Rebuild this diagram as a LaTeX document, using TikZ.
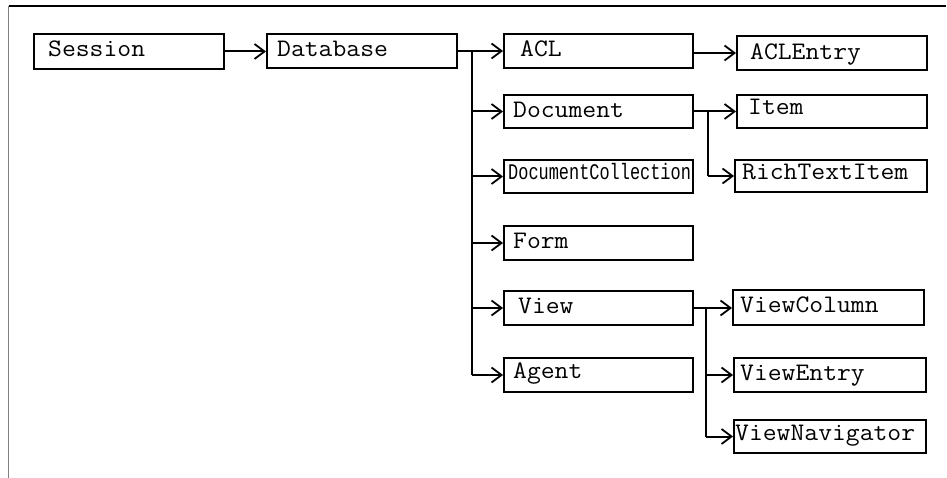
\documentclass[tikz,border=0pt]{standalone}
\usepackage{fontspec}
\newfontfamily\condmono{Liberation Mono}
\usetikzlibrary{arrows.meta,calc}
\tikzset{
  box/.style={draw=black,line width=2pt,rectangle,inner sep=0pt,anchor=north west},
  lbl/.style={anchor=base west,inner sep=0pt,font=\fontsize{24}{24}\selectfont\ttfamily},
  conn/.style={draw=black,line width=2pt},
  arr/.style={conn,-{Straight Barb[length=10pt,width=15pt,line width=1.8pt]}}
}
\newcommand{\mybox}[7]{%
  \node[box,minimum width=#4-#2,minimum height=#5-#3] (#1) at (#2,#3) {};
  \node[lbl] (#1-t) at ($(#1.north west)+(#6,#7)$) {\csname txt#1\endcsname};
}
\newcommand{\wide}[1]{\scalebox{1.12}[1.05]{#1}}
\def\txtsession{\wide{Session}}
\def\txtdatabase{\wide{Database}}
\def\txtacl{\wide{ACL}}
\def\txtaclentry{\wide{ACLEntry}}
\def\txtdocument{\wide{Document}}
\def\txtitem{\wide{Item}}
\def\txtdoccoll{{\condmono\fontsize{23.5}{24}\selectfont\scalebox{0.72}[0.95]{DocumentCollection}}}
\def\txtrichtext{\wide{RichTextItem}}
\def\txtform{\wide{Form}}
\def\txtview{\wide{View}}
\def\txtagent{\wide{Agent}}
\def\txtviewcol{\wide{ViewColumn}}
\def\txtviewentry{\wide{ViewEntry}}
\def\txtviewnav{\wide{ViewNavigator}}
\begin{document}
\begin{tikzpicture}[x=1pt,y=-1pt]
\useasboundingbox (0,0) rectangle (947,478);
% frame
\draw[black,line width=1.2pt] (8.5,6) -- (946,6);
\draw[gray,line width=1.5pt] (8.5,6) -- (8.5,478);
% boxes
\mybox{session}{33}{33}{223}{68}{15}{24}
\mybox{database}{266}{33}{456}{67}{11}{24}
\mybox{acl}{503}{33}{692}{67}{17}{24}
\mybox{aclentry}{736}{35}{926}{69}{14}{25}
\mybox{document}{503}{94}{692}{127}{10}{24}
\mybox{item}{736}{94}{926}{127}{12}{21}
\mybox{doccoll}{503}{159}{692}{192}{5}{21}
\mybox{richtext}{734}{159}{926}{191}{8}{21}
\mybox{form}{503}{225}{692}{259}{10}{23}
\mybox{view}{503}{290}{692}{324}{15}{23}
\mybox{agent}{503}{357}{692}{391}{10}{21}
\mybox{viewcol}{732}{289}{923}{324}{8}{23}
\mybox{viewentry}{733}{357}{925}{391}{7}{23}
\mybox{viewnav}{733}{419}{925}{452}{2}{21}
% junction columns
\coordinate (j1) at (472,0);
\coordinate (j2) at (708,0);
\coordinate (j3) at (706,0);
% connectors
\draw[arr] (session.east) -- (database.west |- session.east);
\draw[conn] (database.east) -- (j1 |- database.east);
\draw[conn] (j1 |- database.east) -- (j1 |- agent.west);
\draw[arr] (j1 |- acl.west) -- (acl.west);
\draw[arr] (j1 |- document.west) -- (document.west);
\draw[arr] (j1 |- doccoll.west) -- (doccoll.west);
\draw[arr] (j1 |- form.west) -- (form.west);
\draw[arr] (j1 |- view.west) -- (view.west);
\draw[arr] (j1 |- agent.west) -- (agent.west);
\draw[arr] (acl.east |- aclentry.west) -- (aclentry.west);
\draw[arr] (document.east) -- (item.west |- document.east);
\draw[conn] (j2 |- document.east) -- (j2 |- richtext.west);
\draw[arr] (j2 |- richtext.west) -- (richtext.west);
\draw[arr] (view.east) -- (viewcol.west |- view.east);
\draw[conn] (j3 |- view.east) -- (j3 |- viewnav.west);
\draw[arr] (j3 |- viewentry.west) -- (viewentry.west);
\draw[arr] (j3 |- viewnav.west) -- (viewnav.west);
\end{tikzpicture}
\end{document}
